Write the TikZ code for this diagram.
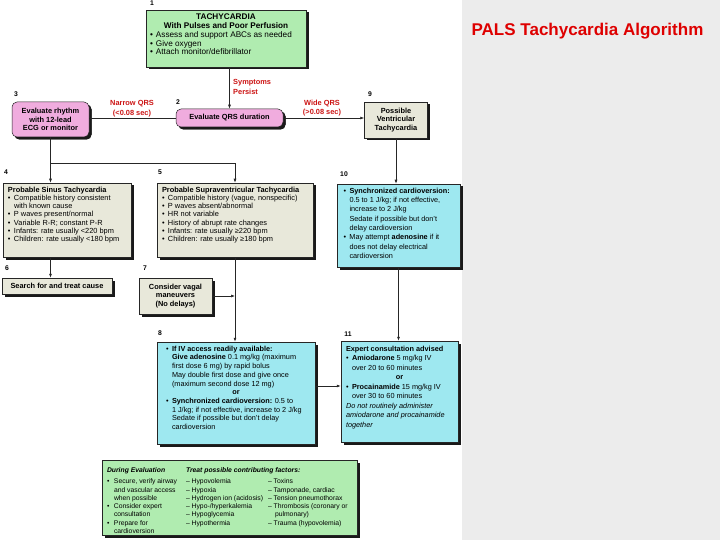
\documentclass[tikz,border=0pt]{standalone}
\usepackage{fontspec}
\setmainfont{Liberation Sans}
\usetikzlibrary{arrows.meta,shadows}

\definecolor{gbox}{RGB}{176,236,176}
\definecolor{pbox}{RGB}{240,172,222}
\definecolor{bbox}{RGB}{232,232,218}
\definecolor{cbox}{RGB}{158,232,240}
\definecolor{lred}{RGB}{204,20,20}
\definecolor{tred}{RGB}{222,0,0}
\definecolor{panel}{RGB}{236,236,236}

\newcommand{\bl}{\makebox[6pt][l]{\textbullet}}
\newcommand{\ind}{\hspace*{6pt}}
\newcommand{\ctr}[1]{\makebox[\linewidth][c]{#1}}
% width, height, fontsize, baselineskip, top pad, content
\newcommand{\tb}[6]{\parbox[c][#2][t]{#1}{\fontsize{#3}{#4}\selectfont\raggedright\vspace*{#5}#6}}

\begin{document}
\begin{tikzpicture}[x=1pt,y=-1pt,
  box/.style={draw=black!85, line width=0.5pt, inner sep=0pt,
    general shadow={fill=black!90, shadow xshift=2.5pt, shadow yshift=-2.5pt}},
  pinkbox/.style={box, fill=pbox, rounded corners=5pt},
  simple/.style={box, font=\fontsize{7.4}{8.6}\selectfont\bfseries, align=center},
  arr/.style={-{Latex[length=4pt,width=3pt]}},
  ln/.style={line width=0.6pt, draw=black!85},
  num/.style={font=\fontsize{6.8}{7}\selectfont\bfseries, inner sep=0pt},
  lbl/.style={font=\fontsize{7.4}{9.5}\selectfont\bfseries, text=lred, inner sep=0pt, align=center}]

\useasboundingbox (0,0) rectangle (720,540);
\fill[white] (0,0) rectangle (462,540);
\fill[panel] (462,0) rectangle (720,540);

\node[font=\fontsize{17}{20}\selectfont\bfseries, text=tred] (title) at (587.5,31) {PALS Tachycardia Algorithm};

% boxes
\node[box, fill=gbox, minimum width=160pt] (b1) at (226,38.5)
 {\tb{152pt}{57pt}{8.2}{8.8}{4pt}{%
 \ctr{\textbf{TACHYCARDIA}}\\
 \ctr{\textbf{With Pulses and Poor Perfusion}}\\
 \bl Assess and support ABCs as needed\\
 \bl Give oxygen\\
 \bl Attach monitor/defibrillator}};

\node[pinkbox, simple, minimum width=107pt, minimum height=18pt] (b2) at (229.5,118) {Evaluate QRS duration};
\node[pinkbox, simple, minimum width=77pt, minimum height=35pt] (b3) at (50.5,119.5) {Evaluate rhythm\\with 12-lead\\ECG or monitor};
\node[box, simple, fill=bbox, minimum width=63pt, minimum height=36pt] (b9) at (396,120) {Possible\\Ventricular\\Tachycardia};

\node[box, fill=bbox, minimum width=128pt] (b4) at (67,220)
 {\tb{118pt}{74pt}{7.4}{8.2}{4pt}{%
 \textbf{Probable Sinus Tachycardia}\\
 \bl Compatible history consistent\\
 \ind with known cause\\
 \bl P waves present/normal\\
 \bl Variable R-R; constant P-R\\
 \bl Infants: rate usually <220 bpm\\
 \bl Children: rate usually <180 bpm}};

\node[box, fill=bbox, minimum width=156pt] (b5) at (235,220)
 {\tb{146pt}{74pt}{7.4}{8.2}{4pt}{%
 \textbf{Probable Supraventricular Tachycardia}\\
 \bl Compatible history (vague, nonspecific)\\
 \bl P waves absent/abnormal\\
 \bl HR not variable\\
 \bl History of abrupt rate changes\\
 \bl Infants: rate usually ≥220 bpm\\
 \bl Children: rate usually ≥180 bpm}};

\node[box, fill=cbox, minimum width=123pt] (b10) at (398.5,225.5)
 {\tb{110pt}{83pt}{7.3}{9.3}{4pt}{%
 \bl\textbf{Synchronized cardioversion:}\\
 \ind 0.5 to 1 J/kg; if not effective,\\
 \ind increase to 2 J/kg\\
 \ind Sedate if possible but don't\\
 \ind delay cardioversion\\
 \bl May attempt \textbf{adenosine} if it\\
 \ind does not delay electrical\\
 \ind cardioversion}};

\node[box, simple, fill=bbox, minimum width=110pt, minimum height=16pt] (b6) at (57,286) {Search for and treat cause};
\node[box, simple, fill=bbox, minimum width=73pt, minimum height=36pt] (b7) at (175.5,296) {Consider vagal\\maneuvers\\(No delays)};

\node[box, fill=cbox, minimum width=158pt] (b8) at (236,393)
 {\tb{140pt}{102pt}{7.3}{8.7}{4pt}{%
 \bl\textbf{If IV access readily available:}\\
 \ind\textbf{Give adenosine} 0.1 mg/kg (maximum\\
 \ind first dose 6 mg) by rapid bolus\\
 \ind May double first dose and give once\\
 \ind (maximum second dose 12 mg)\\
 \ctr{\textbf{or}}\\
 \bl\textbf{Synchronized cardioversion:} 0.5 to\\
 \ind 1 J/kg; if not effective, increase to 2 J/kg\\
 \ind Sedate if possible but don't delay\\
 \ind cardioversion}};

\node[box, fill=cbox, minimum width=117pt] (b11) at (399.5,391.5)
 {\tb{107pt}{101pt}{7.3}{9.5}{5pt}{%
 \textbf{Expert consultation advised}\\
 \bl\textbf{Amiodarone} 5 mg/kg IV\\
 \ind over 20 to 60 minutes\\
 \ctr{\textbf{or}}\\
 \bl\textbf{Procainamide} 15 mg/kg IV\\
 \ind over 30 to 60 minutes\\
 \textit{Do not routinely administer}\\
 \textit{amiodarone and procainamide}\\
 \textit{together}}};

\node[box, fill=gbox, minimum width=255pt] (b12) at (229.5,497.5)
 {\tb{245pt}{75pt}{6.8}{8.3}{8pt}{%
 \makebox[79pt][l]{\textbf{\textit{During Evaluation}}}\textbf{\textit{Treat possible contributing factors:}}\\[2.5pt]
 \parbox[t]{79pt}{\raggedright
 \makebox[7pt][l]{\textbullet}Secure, verify airway\\
 \hspace*{7pt}and vascular access\\
 \hspace*{7pt}when possible\\
 \makebox[7pt][l]{\textbullet}Consider expert\\
 \hspace*{7pt}consultation\\
 \makebox[7pt][l]{\textbullet}Prepare for\\
 \hspace*{7pt}cardioversion}%
 \parbox[t]{82pt}{\raggedright
 – Hypovolemia\\
 – Hypoxia\\
 – Hydrogen ion (acidosis)\\
 – Hypo-/hyperkalemia\\
 – Hypoglycemia\\
 – Hypothermia}%
 \parbox[t]{84pt}{\raggedright
 – Toxins\\
 – Tamponade, cardiac\\
 – Tension pneumothorax\\
 – Thrombosis (coronary or\\
 \hspace*{7pt}pulmonary)\\
 – Trauma (hypovolemia)}}};

% step numbers
\node[num] (n1) at (152,3) {1};
\node[num] (n2) at (178,102) {2};
\node[num] (n3) at (16,94) {3};
\node[num] (n4) at (6,172) {4};
\node[num] (n5) at (160,172) {5};
\node[num] (n6) at (7,268) {6};
\node[num] (n7) at (145,268) {7};
\node[num] (n8) at (160,333) {8};
\node[num] (n9) at (370,94) {9};
\node[num] (n10) at (344,174) {10};
\node[num] (n11) at (348,334) {11};

% red labels
\node[lbl, align=left, anchor=west] (sp) at (233,87) {Symptoms\\Persist};
\node[lbl] (nq) at (132,108.5) {Narrow QRS\\(<0.08 sec)};
\node[lbl] (wq) at (322,108) {Wide QRS\\(>0.08 sec)};

% connectors
\coordinate (j1) at (50.5,163);
\draw[ln,arr] (b1.south -| b2.north) -- (b2.north);
\draw[ln] (b2.west) -- (b2.west -| b3.east);
\draw[ln,arr] (b2.east) -- (b2.east -| b9.west);
\draw[ln] (b3.south) -- (j1);
\draw[ln,arr] (j1) -- (j1 |- b4.north);
\draw[ln,arr] (j1) -| (b5.north);
\draw[ln,arr] (b9.south) -- (b9.south |- b10.north);
\draw[ln,arr] (b4.south -| j1) -- (b6.north -| j1);
\draw[ln,arr] (b5.south) -- (b5.south |- b8.north);
\draw[ln,arr] (b7.east) -- (b7.east -| b5.south);
\draw[ln,arr] (b10.south) -- (b10.south |- b11.north);
\draw[ln,arr] ([yshift=7pt]b8.east) -- ([yshift=7pt]b8.east -| b11.west);
\end{tikzpicture}
\end{document}
